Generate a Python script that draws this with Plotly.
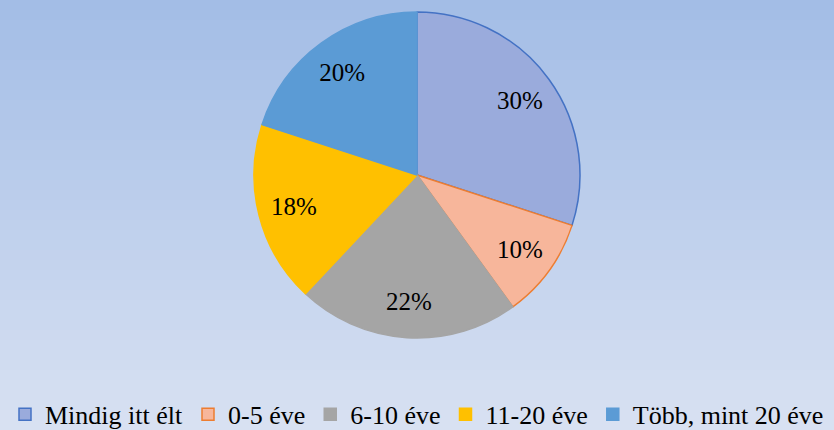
import plotly.graph_objects as go

categories = ["Mindig itt élt", "0-5 éve", "6-10 éve", "11-20 éve", "Több, mint 20 éve"]
values = [30, 10, 22, 18, 20]
fill_colors = ["#9AABDC", "#F7B69B", "#A5A5A5", "#FFC000", "#5B9BD5"]
line_colors = ["#4472C4", "#ED7D31", "#A5A5A5", "#FFC000", "#5B9BD5"]

W, H = 834, 430
FONT = "Liberation Serif"
top_rgb = (163, 189, 230)
bot_rgb = (216, 225, 242)

shapes = []
n = 43
for i in range(n):
    t = i / (n - 1)
    c = tuple(int(round(top_rgb[k] + (bot_rgb[k] - top_rgb[k]) * t)) for k in range(3))
    shapes.append(dict(type="rect", xref="paper", yref="paper",
                       x0=-0.05, x1=1.05, y0=1 - (i + 1) / n - (0.05 if i == n - 1 else 0.001),
                       y1=1 - i / n + (0.05 if i == 0 else 0),
                       fillcolor="rgb(%d,%d,%d)" % c, line=dict(width=0), layer="below"))

dom = dict(x=[0, 1], y=[1 - 338 / H, 1 - 12 / H])

fig = go.Figure()
fig.add_trace(go.Pie(
    labels=categories,
    values=values,
    sort=False,
    direction="clockwise",
    rotation=0,
    marker=dict(colors=fill_colors, line=dict(color=line_colors, width=1.5)),
    textinfo="none",
    domain=dom,
    hoverinfo="label+percent",
    showlegend=True,
))
# transparent ring carrying the percentage labels further out
fig.add_trace(go.Pie(
    labels=categories,
    values=values,
    sort=False,
    direction="clockwise",
    rotation=0,
    hole=0.56,
    marker=dict(colors=["rgba(0,0,0,0)"] * len(values), line=dict(width=0)),
    texttemplate="%{percent:.0%}",
    textposition="inside",
    insidetextorientation="horizontal",
    textfont=dict(family=FONT, size=25, color="black"),
    domain=dom,
    hoverinfo="skip",
    showlegend=False,
))

fig.update_layout(
    width=W, height=H,
    margin=dict(l=0, r=0, t=0, b=0, autoexpand=False),
    paper_bgcolor="rgb(190,206,236)",
    shapes=shapes,
    showlegend=True,
    legend=dict(orientation="h", x=0.5, xanchor="center", xref="paper",
                y=-0.018, yanchor="bottom", yref="paper",
                font=dict(family=FONT, size=26, color="black"),
                bgcolor="rgba(0,0,0,0)", itemclick=False, traceorder="normal",
                borderwidth=0),
)

fig.write_html("out.html", config={"displayModeBar": False},
               post_script="document.body.style.margin='0';document.body.style.overflow='hidden';")
